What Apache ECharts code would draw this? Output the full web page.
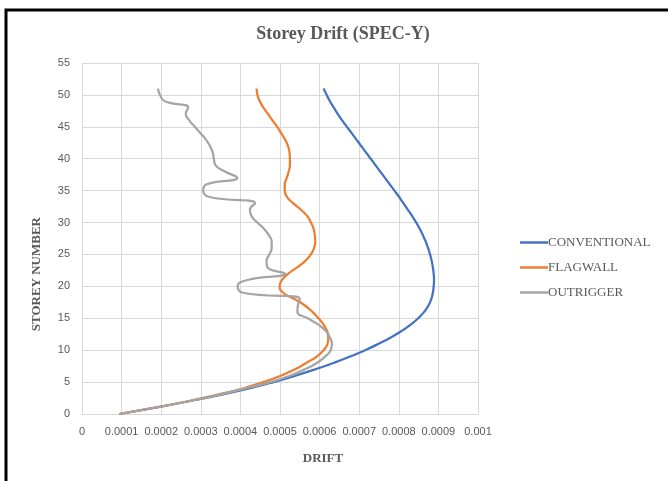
<!DOCTYPE html>
<html>
<head>
<meta charset="utf-8">
<script src="https://cdn.jsdelivr.net/npm/echarts@6/dist/echarts.min.js"></script>
<style>
html,body{margin:0;padding:0;background:#fff;}
#c{width:668px;height:481px;}
</style>
</head>
<body>
<div id="c"></div>
<script>
const storeys = [0,1,2,3,4,5,6,7,8,9,10,11,12,13,14,15,16,17,18,19,20,21,22,23,24,25,26,27,28,29,30,31,32,33,34,35,36,37,38,39,40,41,42,43,44,45,46,47,48,49,50,51];
const conventional = [0.000094,0.000185,0.000270,0.000350,0.000422,0.000484,0.000539,0.000589,0.000635,0.000677,0.000715,0.000749,0.000780,0.000807,0.000830,0.000849,0.000864,0.000875,0.000882,0.000886,0.000888,0.000889,0.000888,0.000886,0.000883,0.000879,0.000874,0.000868,0.000861,0.000853,0.000844,0.000834,0.000823,0.000812,0.000801,0.000789,0.000777,0.000765,0.000753,0.000741,0.000729,0.000717,0.000705,0.000693,0.000681,0.000669,0.000657,0.000646,0.000636,0.000626,0.000618,0.000610];
const flagwall = [0.000094,0.000185,0.000268,0.000340,0.000406,0.000458,0.000502,0.000538,0.000566,0.000593,0.000610,0.000620,0.000622,0.000619,0.000610,0.000597,0.000582,0.000563,0.000537,0.000508,0.000499,0.000505,0.000521,0.000544,0.000564,0.000578,0.000586,0.000589,0.000588,0.000585,0.000578,0.000569,0.000553,0.000534,0.000518,0.000512,0.000512,0.000517,0.000522,0.000525,0.000525,0.000524,0.000520,0.000513,0.000503,0.000493,0.000481,0.000470,0.000458,0.000449,0.000443,0.000441];
const outrigger = [0.000094,0.000185,0.000270,0.000345,0.000412,0.000475,0.000525,0.000563,0.000593,0.000614,0.000628,0.000631,0.000626,0.000616,0.000597,0.000570,0.000544,0.000545,0.000550,0.000406,0.000393,0.000418,0.000513,0.000468,0.000466,0.000473,0.000479,0.000479,0.000472,0.000460,0.000443,0.000428,0.000424,0.000437,0.000323,0.000306,0.000315,0.000392,0.000361,0.000337,0.000333,0.000330,0.000323,0.000313,0.000299,0.000285,0.000271,0.000262,0.000268,0.000209,0.000197,0.000192];
const seriesNames = ['CONVENTIONAL','FLAGWALL','OUTRIGGER'];
const xTickLabels = ['0','0.0001','0.0002','0.0003','0.0004','0.0005','0.0006','0.0007','0.0008','0.0009','0.001'];
const yTickLabels = ['0','5','10','15','20','25','30','35','40','45','50','55'];

const colors = ['#4472C4','#ED7D31','#A5A5A5'];
const seriesData = [conventional, flagwall, outrigger];

const chart = echarts.init(document.getElementById('c'), null, {renderer:'canvas'});
const serif = '"Liberation Serif", "Times New Roman", serif';
const sans = '"Liberation Sans", Arial, sans-serif';

chart.setOption({
  animation: false,
  backgroundColor: '#fff',
  title: {
    text: 'Storey Drift (SPEC-Y)',
    left: 338, top: 20, textAlign: 'center',
    textStyle: {fontFamily: serif, fontWeight: 'bold', fontSize: 18, color: '#595959'}
  },
  graphic: [
    {type:'rect', shape:{x:6, y:10, width:700, height:520}, style:{fill:'none', stroke:'#000', lineWidth:3}, silent:true, z:100},
    {type:'text', left: 30, top: 217, rotation: Math.PI/2, style:{text:'STOREY NUMBER', font:'bold 13px "Liberation Serif"', fill:'#595959'}},
    {type:'text', x: 323, y: 459, style:{text:'DRIFT', font:'bold 13px "Liberation Serif"', fill:'#595959', align:'center', verticalAlign:'middle'}}
  ],
  legend: {
    orient: 'vertical', left: 515, top: 230,
    icon: 'rect',
    itemWidth: 28, itemHeight: 2.5, itemGap: 10,
    textStyle: {fontFamily: serif, fontSize: 13, color: '#595959', padding:[0,0,0,-5], lineHeight: 15},
    data: seriesNames
  },
  grid: {left: 82, right: 190, top: 63, bottom: 67},
  xAxis: {
    type: 'value', min: 0, max: 0.001, interval: 0.0001,
    axisLine: {show: true, lineStyle: {color: '#d9d9d9', width: 1}},
    axisTick: {show: false},
    splitLine: {show: true, lineStyle: {color: '#d9d9d9', width: 1}},
    axisLabel: {
      color: '#595959', fontFamily: sans, fontSize: 11, margin: 12,
      formatter: function(v){ return xTickLabels[Math.round(v/0.0001)]; }
    }
  },
  yAxis: {
    type: 'value', min: 0, max: 55, interval: 5,
    axisLine: {show: true, lineStyle: {color: '#d9d9d9', width: 1}},
    axisTick: {show: false},
    splitLine: {show: true, lineStyle: {color: '#d9d9d9', width: 1}},
    axisLabel: {
      color: '#595959', fontFamily: sans, fontSize: 11, margin: 12,
      formatter: function(v){ return yTickLabels[Math.round(v/5)]; }
    }
  },
  series: seriesNames.map(function(name, i){
    return {
      name: name, type: 'line', smooth: 0.5, symbol: 'none',
      color: colors[i],
      lineStyle: {width: 2.25, color: colors[i]},
      data: storeys.map(function(s, k){ return [seriesData[i][k], s]; })
    };
  })
});
</script>
</body>
</html>
